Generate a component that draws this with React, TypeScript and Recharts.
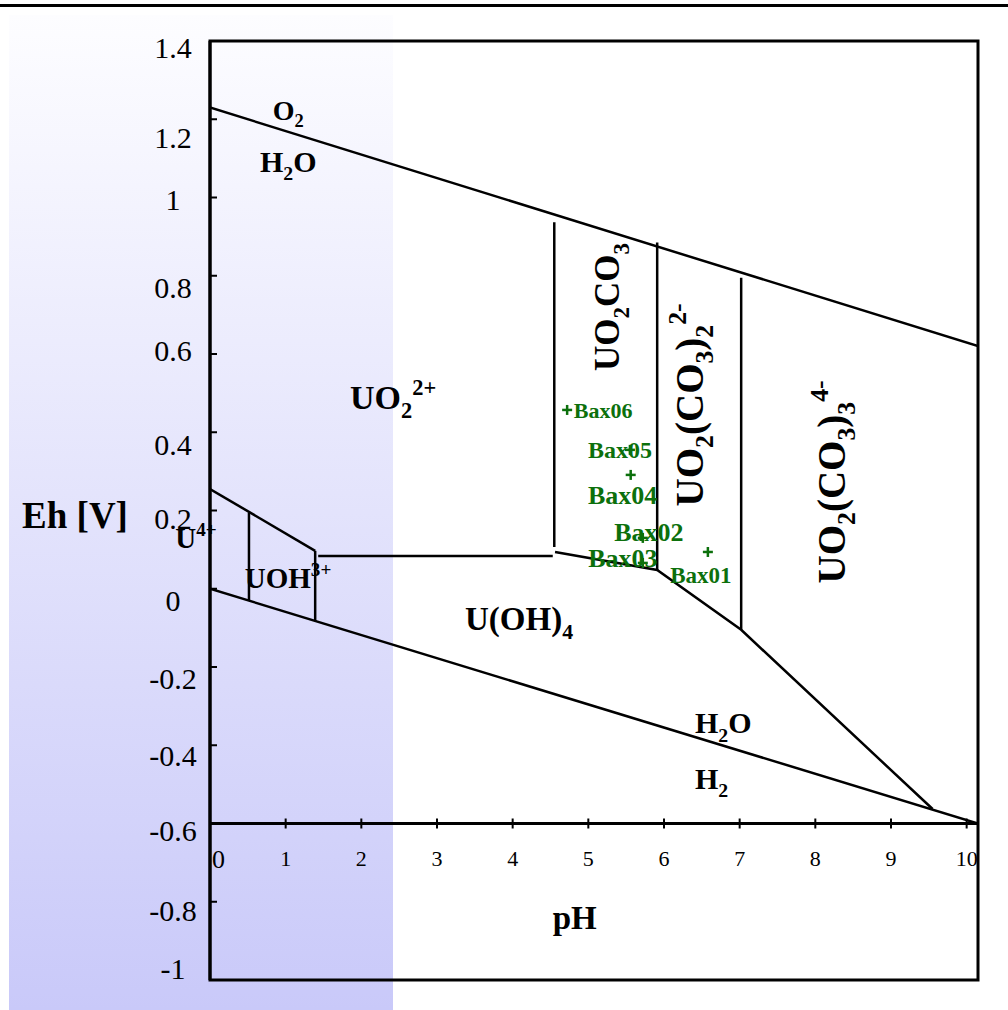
import React from 'react';
import {
  ComposedChart,
  Line,
  Scatter,
  XAxis,
  YAxis,
  ReferenceLine,
  ReferenceArea,
  ReferenceDot,
} from 'recharts';

// ---------- data ----------
const PH_MIN = 0;
const PH_MAX = 10.15;
const EH_MIN = -1;
const EH_MAX = 1.4;
const X_AXIS_EH = -0.6;

const xTicks = [0, 1, 2, 3, 4, 5, 6, 7, 8, 9, 10];
const yTicks = [-1, -0.8, -0.6, -0.4, -0.2, 0, 0.2, 0.4, 0.6, 0.8, 1, 1.2, 1.4];

// stability boundaries (pH, Eh)
const o2WaterLine = [{ pH: 0, Eh: 1.23 }, { pH: 10.15, Eh: 0.62 }];
const waterH2Line = [{ pH: 0, Eh: 0.0 }, { pH: 10.15, Eh: -0.6 }];
const u4UpperLine = [{ pH: 0, Eh: 0.255 }, { pH: 1.39, Eh: 0.097 }];
const u4UohLine = [{ pH: 0.515, Eh: 0.194 }, { pH: 0.515, Eh: -0.03 }];
const uohRightLine = [{ pH: 1.39, Eh: 0.097 }, { pH: 1.39, Eh: -0.083 }];
const uo2Uoh4Line = [{ pH: 1.43, Eh: 0.084 }, { pH: 4.53, Eh: 0.084 }];
const uo2Uo2co3Line = [{ pH: 4.55, Eh: 0.937 }, { pH: 4.55, Eh: 0.107 }];
const carbonateLowerLine = [
  { pH: 4.56, Eh: 0.094 },
  { pH: 5.91, Eh: 0.048 },
  { pH: 7.02, Eh: -0.105 },
  { pH: 9.55, Eh: -0.563 },
];
const co3OneTwoLine = [{ pH: 5.91, Eh: 0.885 }, { pH: 5.91, Eh: 0.048 }];
const co3TwoThreeLine = [{ pH: 7.02, Eh: 0.795 }, { pH: 7.02, Eh: -0.105 }];

const boundaries = [
  o2WaterLine,
  waterH2Line,
  u4UpperLine,
  u4UohLine,
  uohRightLine,
  uo2Uoh4Line,
  uo2Uo2co3Line,
  carbonateLowerLine,
  co3OneTwoLine,
  co3TwoThreeLine,
];

// samples
const sampleNames = ['Bax01', 'Bax02', 'Bax03', 'Bax04', 'Bax05', 'Bax06'];
const samplePH = [6.58, 5.72, 5.72, 5.56, 5.55, 4.72];
const sampleEh = [0.094, 0.13, 0.066, 0.291, 0.355, 0.457];
const samples = sampleNames.map((name, i) => ({ name, pH: samplePH[i], Eh: sampleEh[i] }));

// region labels: text parts [text, kind]
type Kind = 'n' | 'sub' | 'sup';
type Part = [string, Kind?];
const regionLabels: { pH: number; Eh: number; parts: Part[]; rotate?: boolean }[] = [
  { pH: 0.83, Eh: 1.224, parts: [['O'], ['2', 'sub']] },
  { pH: 0.66, Eh: 1.091, parts: [['H'], ['2', 'sub'], ['O']] },
  { pH: 1.85, Eh: 0.49, parts: [['UO'], ['2', 'sub'], ['2+', 'sup']] },
  { pH: -0.46, Eh: 0.13, parts: [['U'], ['4+', 'sup']] },
  { pH: 0.46, Eh: 0.027, parts: [['UOH'], ['3+', 'sup']] },
  { pH: 3.37, Eh: -0.075, parts: [['U(OH)'], ['4', 'sub']] },
  { pH: 5.25, Eh: 0.72, parts: [['UO'], ['2', 'sub'], ['CO'], ['3', 'sub']], rotate: true },
  {
    pH: 6.33,
    Eh: 0.47,
    parts: [['UO'], ['2', 'sub'], ['(CO'], ['3', 'sub'], [')'], ['2', 'sub'], ['2-', 'sup']],
    rotate: true,
  },
  {
    pH: 8.21,
    Eh: 0.273,
    parts: [['UO'], ['2', 'sub'], ['(CO'], ['3', 'sub'], [')'], ['3', 'sub'], ['4-', 'sup']],
    rotate: true,
  },
  { pH: 6.41, Eh: -0.343, parts: [['H'], ['2', 'sub'], ['O']] },
  { pH: 6.41, Eh: -0.484, parts: [['H'], ['2', 'sub']] },
];

// ---------- styles ----------
const FONT = "'Liberation Serif', 'Times New Roman', Times, serif";
const GREEN = '#0c700c';
const regionLabelSize = [28, 30, 34, 29, 29, 33, 35, 39, 39, 30, 30];
const sampleLabelStyle: Record<string, { dx: number; dy: number; size: number }> = {
  Bax01: { dx: -7, dy: 23, size: 23 },
  Bax02: { dx: 6, dy: -6, size: 26 },
  Bax03: { dx: -20, dy: -5, size: 26 },
  Bax04: { dx: -8, dy: 20, size: 26 },
  Bax05: { dx: -10, dy: 0, size: 24 },
  Bax06: { dx: 36, dy: 0, size: 22 },
};
const yLabelNudge: Record<string, number> = {
  '1.4': 6, '1.2': 18, '1': 2, '0.8': 12, '0.6': -4, '0.4': 12, '0.2': 8,
  '0': 12, '-0.2': 11, '-0.4': 10, '-0.6': 7, '-0.8': 9, '-1': -12,
};

function chemSpans(parts: Part[], size: number) {
  let cur = 0;
  return parts.map(([t, k = 'n'], i) => {
    const target = k === 'sub' ? 0.27 * size : k === 'sup' ? -0.42 * size : 0;
    const dy = target - cur;
    cur = target;
    return (
      <tspan key={i} dy={dy} fontSize={k === 'n' ? size : size * 0.66}>
        {t}
      </tspan>
    );
  });
}

const makeRegionShape = (lab: (typeof regionLabels)[number], size: number) => (props: any) => {
  const { cx, cy } = props;
  if (lab.rotate) {
    return (
      <g transform={`translate(${cx},${cy}) rotate(-90)`}>
        <text x={0} y={0.35 * size} textAnchor="middle" fontFamily={FONT} fontWeight="bold" fontSize={size} fill="#000">
          {chemSpans(lab.parts, size)}
        </text>
      </g>
    );
  }
  return (
    <text x={cx} y={cy + 0.35 * size} textAnchor="start" fontFamily={FONT} fontWeight="bold" fontSize={size} fill="#000">
      {chemSpans(lab.parts, size)}
    </text>
  );
};

const makeXTickShape = (t: number) => (props: any) => {
  const { cx, cy } = props;
  const isZero = t === 0;
  return (
    <g>
      <line x1={cx} x2={cx} y1={cy - 5} y2={cy + 5} stroke="#000" strokeWidth={2} />
      <text
        x={isZero ? cx + 2 : cx}
        y={cy + 35 + 0.35 * (isZero ? 26 : 22)}
        textAnchor={isZero ? 'start' : 'middle'}
        fontFamily={FONT}
        fontSize={isZero ? 26 : 22}
        fill="#000"
      >
        {String(t)}
      </text>
    </g>
  );
};

const YTick = (props: any) => {
  const { x, y, payload } = props;
  const label = String(Math.round(payload.value * 10) / 10);
  const nudge = yLabelNudge[label] ?? 7;
  return (
    <g>
      <line x1={x} x2={x + 7} y1={y} y2={y} stroke="#000" strokeWidth={2} />
      <text x={x - 37} y={y + nudge + 0.35 * 30} textAnchor="middle" fontFamily={FONT} fontSize={30} fill="#000">
        {label}
      </text>
    </g>
  );
};

const SampleMark = (props: any) => {
  const { cx, cy, payload } = props;
  const st = sampleLabelStyle[payload.name];
  return (
    <g>
      <text
        x={cx + st.dx}
        y={cy + st.dy + 0.35 * st.size}
        textAnchor="middle"
        fontFamily={FONT}
        fontWeight="bold"
        fontSize={st.size}
        fill={GREEN}
      >
        {payload.name}
      </text>
      <line x1={cx - 5} x2={cx + 5} y1={cy} y2={cy} stroke={GREEN} strokeWidth={2.5} />
      <line x1={cx} x2={cx} y1={cy - 5} y2={cy + 5} stroke={GREEN} strokeWidth={2.5} />
    </g>
  );
};

const PhTitle = (props: any) => {
  const { cx, cy } = props;
  return (
    <text x={cx} y={cy + 0.35 * 33} textAnchor="middle" fontFamily={FONT} fontWeight="bold" fontSize={33} fill="#000">
      pH
    </text>
  );
};

const EhTitle = (props: any) => {
  const vb = props.viewBox || { x: 0, y: 0, width: 0, height: 0 };
  return (
    <text
      x={vb.x + 75}
      y={vb.y + vb.height / 2 + 5 + 0.35 * 37}
      textAnchor="middle"
      fontFamily={FONT}
      fontWeight="bold"
      fontSize={37}
      fill="#000"
    >
      Eh [V]
    </text>
  );
};

export default function App() {
  return (
    <div style={{ position: 'absolute', left: 0, top: 0, width: 1008, height: 1010, background: '#fff', overflow: 'hidden' }}>
      <div
        style={{
          position: 'absolute',
          left: 9,
          top: 15,
          width: 384,
          height: 995,
          background: 'linear-gradient(to bottom, #fdfdff 0%, #c9c9f9 100%)',
        }}
      />
      <div style={{ position: 'absolute', left: 0, top: 4, width: 1008, height: 3, background: '#000' }} />
      <div style={{ position: 'absolute', left: 0, top: 0 }}>
        <ComposedChart width={1008} height={1010} margin={{ top: 41, right: 30, bottom: 30, left: 0 }}>
          <XAxis type="number" dataKey="pH" domain={[PH_MIN, PH_MAX]} hide allowDataOverflow />
          <YAxis
            type="number"
            domain={[EH_MIN, EH_MAX]}
            ticks={yTicks}
            interval={0}
            width={210}
            allowDataOverflow
            axisLine={{ stroke: '#000', strokeWidth: 3 }}
            tickLine={false}
            tickSize={0}
            tickMargin={0}
            tick={<YTick />}
            label={<EhTitle />}
          />
          <ReferenceLine y={X_AXIS_EH} stroke="#000" strokeWidth={3} />
          {boundaries.map((seg, i) => (
            <Line
              key={`b${i}`}
              data={seg}
              dataKey="Eh"
              type="linear"
              stroke="#000"
              strokeWidth={2.5}
              dot={false}
              activeDot={false}
              isAnimationActive={false}
            />
          ))}
          {xTicks.map((t) => (
            <ReferenceDot key={`xt${t}`} x={t} y={X_AXIS_EH} r={0} ifOverflow="visible" shape={makeXTickShape(t)} />
          ))}
          {regionLabels.map((lab, i) => (
            <ReferenceDot
              key={`rl${i}`}
              x={lab.pH}
              y={lab.Eh}
              r={0}
              ifOverflow="visible"
              shape={makeRegionShape(lab, regionLabelSize[i])}
            />
          ))}
          <ReferenceDot x={4.82} y={-0.839} r={0} ifOverflow="visible" shape={PhTitle} />
          <Scatter data={samples} dataKey="Eh" shape={SampleMark} isAnimationActive={false} />
          <ReferenceArea
            x1={PH_MIN}
            x2={PH_MAX}
            y1={EH_MIN}
            y2={EH_MAX}
            fill="none"
            fillOpacity={0}
            stroke="#000"
            strokeWidth={3}
            ifOverflow="visible"
          />
        </ComposedChart>
      </div>
    </div>
  );
}
